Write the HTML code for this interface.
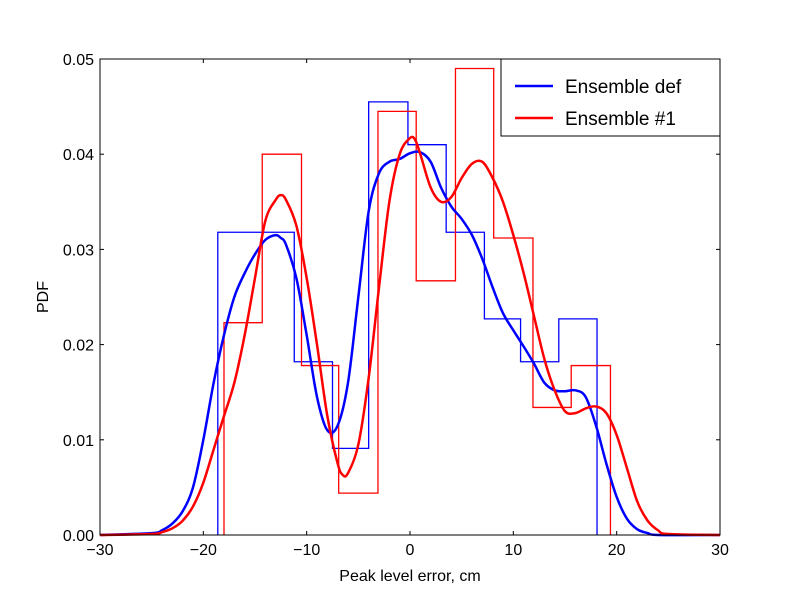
<!DOCTYPE html>
<html><head><meta charset="utf-8"><style>
body{margin:0;background:#fff}
svg text{font-family:"Liberation Sans","DejaVu Sans",sans-serif}
</style></head><body>
<svg width="800" height="595" xmlns="http://www.w3.org/2000/svg">
<rect width="800" height="595" fill="#fff"/>
<g id="plot"></g>
</svg>
<script>
const blueEdges=[-18.6,-11.2,-7.5,-4.0,-0.2,3.5,7.2,10.7,14.4,18.1];
const blueHist=[0.0318,0.0182,0.0091,0.0455,0.041,0.0318,0.0227,0.0182,0.0227];
const redEdges=[-18.0,-14.3,-10.5,-6.9,-3.1,0.6,4.4,8.1,11.9,15.6,19.4];
const redHist=[0.0223,0.040,0.0178,0.0044,0.0445,0.0267,0.049,0.0312,0.0134,0.0178];
const blueKdeX=[-30,-25,-24,-23,-22,-21,-20,-19,-18,-17,-16,-15,-14,-13,-12.5,-12,-11,-10,-9,-8,-7,-6,-5,-4,-3,-2,-1,0,1,2,3,4,5,6,7,8,9,10,11,12,13,14,15,16,17,18,19,20,21,22,23,24,30];
const blueKdeY=[0,0.0002,0.0005,0.0012,0.0025,0.005,0.01,0.016,0.021,0.025,0.0275,0.0295,0.031,0.0315,0.0312,0.0305,0.027,0.021,0.0145,0.011,0.0115,0.016,0.025,0.034,0.038,0.0392,0.0395,0.0401,0.0402,0.0392,0.0365,0.0345,0.0332,0.0315,0.029,0.026,0.0233,0.0215,0.0198,0.018,0.016,0.0152,0.0151,0.0152,0.0145,0.0115,0.0075,0.004,0.0017,0.0006,0.0002,0,0];
const redKdeX=[-30,-25,-24,-23,-22,-21,-20,-19,-18,-17,-16,-15,-14,-13,-12.5,-12,-11,-10,-9,-8,-7,-6.5,-6,-5,-4,-3,-2,-1,0,0.5,1,2,3,4,5,6,7,8,9,10,11,12,13,14,15,16,17,18,19,20,21,22,23,24,25,30];
const redKdeY=[0,0.0001,0.0003,0.0007,0.0015,0.003,0.0055,0.009,0.0125,0.016,0.021,0.027,0.033,0.0352,0.0357,0.0352,0.0325,0.027,0.020,0.0125,0.0075,0.0063,0.0065,0.0095,0.0165,0.026,0.035,0.04,0.0417,0.0415,0.04,0.0365,0.035,0.0355,0.0375,0.039,0.0392,0.0375,0.035,0.0315,0.0275,0.023,0.0185,0.0152,0.013,0.0128,0.0133,0.0135,0.0128,0.0105,0.007,0.0035,0.0015,0.0005,0.0001,0];
const xTicks=[-30,-20,-10,0,10,20,30];
const yTicks=[0,0.01,0.02,0.03,0.04,0.05];
const yTickLabels=["0.00","0.01","0.02","0.03","0.04","0.05"];
const L=100,R=720,T=59,B=535;
const sx=v=>L+(v+30)/60*(R-L), sy=v=>B-v/0.05*(B-T);
const NS="http://www.w3.org/2000/svg", g=document.getElementById('plot');
function mk(t,a,p){const e=document.createElementNS(NS,t);for(const k in a)e.setAttribute(k,a[k]);(p||g).appendChild(e);return e;}
function hist(edges,vals,color,name){let d=`M${sx(edges[0])},${sy(0)}`;vals.forEach((v,i)=>{d+=` L${sx(edges[i])},${sy(v)} L${sx(edges[i+1])},${sy(v)}`;});d+=` L${sx(edges[edges.length-1])},${sy(0)}`;
const e=mk('path',{d,fill:'none',stroke:color,'stroke-width':1.3});}
function kde(xs,ys,color,name){
  const P=xs.map((x,i)=>[sx(x),sy(ys[i])]);
  let d=`M${P[0][0]},${P[0][1]}`;
  for(let i=0;i<P.length-1;i++){
    const p0=P[i-1]||P[i],p1=P[i],p2=P[i+1],p3=P[i+2]||P[i+1];
    const c1=[p1[0]+(p2[0]-p0[0])/6,p1[1]+(p2[1]-p0[1])/6];
    const c2=[p2[0]-(p3[0]-p1[0])/6,p2[1]-(p3[1]-p1[1])/6];
    c1[0]=Math.min(Math.max(c1[0],p1[0]),p2[0]);c2[0]=Math.min(Math.max(c2[0],p1[0]),p2[0]);
    d+=` C${c1[0]},${c1[1]} ${c2[0]},${c2[1]} ${p2[0]},${p2[1]}`;
  }
  const e=mk('path',{d,fill:'none',stroke:color,'stroke-width':2.5,'stroke-linejoin':'round'});}
hist(blueEdges,blueHist,'#0000ff','hist-ensemble-def');
hist(redEdges,redHist,'#ff0000','hist-ensemble-1');
kde(blueKdeX,blueKdeY,'#0000ff','kde-ensemble-def');
kde(redKdeX,redKdeY,'#ff0000','kde-ensemble-1');
const fr=mk('rect',{x:L,y:T,width:R-L,height:B-T,fill:'none',stroke:'#000','stroke-width':1});

xTicks.forEach(t=>{const x=sx(t);mk('line',{x1:x,x2:x,y1:B,y2:B-4,stroke:'#000'});mk('line',{x1:x,x2:x,y1:T,y2:T+4,stroke:'#000'});
const tx=mk('text',{x:x,y:B+20,'text-anchor':'middle','font-size':16});tx.textContent=(t<0?'\u2212'+(-t):t);});
yTicks.forEach((t,i)=>{const y=sy(t);mk('line',{x1:L,x2:L+4,y1:y,y2:y,stroke:'#000'});mk('line',{x1:R,x2:R-4,y1:y,y2:y,stroke:'#000'});
const tx=mk('text',{x:L-6,y:y+6,'text-anchor':'end','font-size':16});tx.textContent=yTickLabels[i];});
const xt=mk('text',{x:410,y:581,'text-anchor':'middle','font-size':16});xt.textContent='Peak level error, cm';
const yt=mk('text',{x:48,y:297,'text-anchor':'middle','font-size':16,transform:'rotate(-90 48 297)'});yt.textContent='PDF';
const lg=mk('g',{});
mk('rect',{x:501,y:59,width:219,height:77,fill:'#fff',stroke:'#000'},lg);
[['Ensemble def','#0000ff',86],['Ensemble #1','#ff0000',118]].forEach(([n,c,y])=>{mk('line',{x1:515,x2:553,y1:y,y2:y,stroke:c,'stroke-width':2.5},lg);
const t=mk('text',{x:565,y:y+7,'font-size':19},lg);t.textContent=n;});
</script>
</body></html>
